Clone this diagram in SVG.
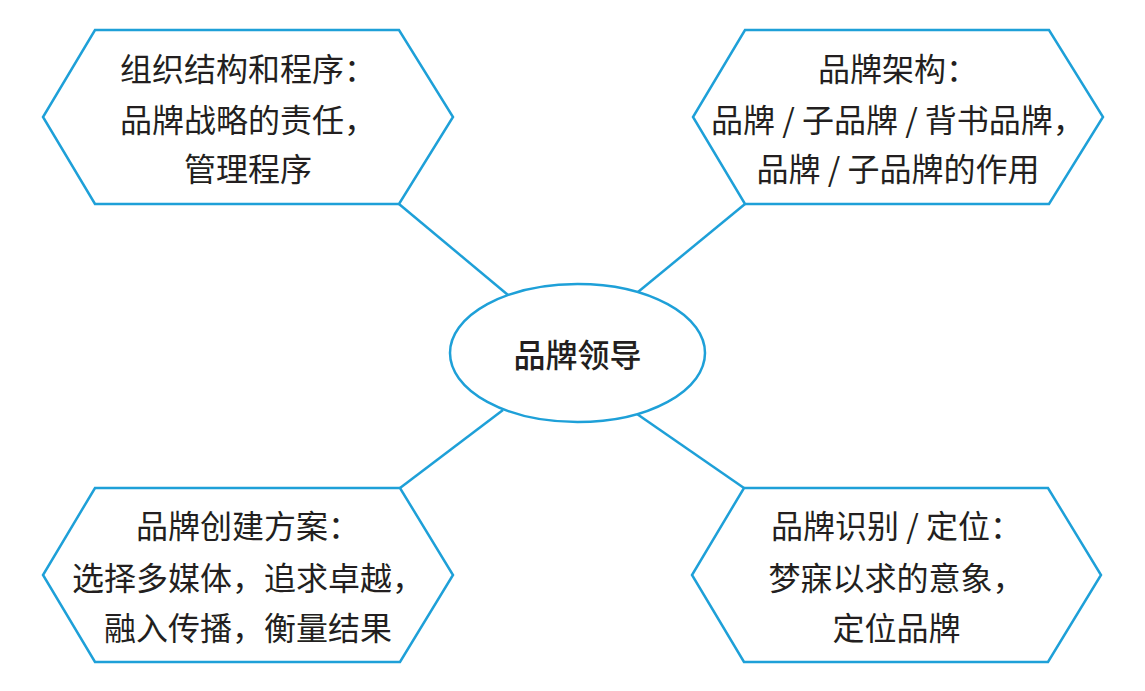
<svg xmlns="http://www.w3.org/2000/svg" width="1145" height="691" viewBox="0 0 1145 691">
<style>
.shape{fill:#ffffff;stroke:#1ea0d8;stroke-width:2.5;stroke-linejoin:miter}
.conn line{stroke:#1ea0d8;stroke-width:2.5}
.t{font-family:"Noto Sans CJK SC","Noto Sans CJK TC",sans-serif;font-size:32px;fill:#231f20;text-anchor:middle;dominant-baseline:central}
.c{font-weight:500;font-size:32px}
</style>
<rect width="1145" height="691" fill="#ffffff"/>
<g id="connectors" class="conn">
<line x1="399" y1="204" x2="508" y2="295"/>
<line x1="745" y1="204" x2="638" y2="292"/>
<line x1="400" y1="488" x2="503" y2="410"/>
<line x1="744" y1="488" x2="637" y2="414"/>
</g>
<g id="center">
<ellipse class="shape" cx="577.5" cy="353" rx="127.5" ry="69"/>
<text class="t c" x="577.5" y="353">品牌领导</text>
</g>
<g id="node-top-left">
<polygon class="shape" points="95,30 399,30 453,117 399,204 95,204 43,117"/>
<text class="t" x="248" y="67">组织结构和程序：</text>
<text class="t" x="248" y="118">品牌战略的责任，</text>
<text class="t" x="248" y="167">管理程序</text>
</g>
<g id="node-top-right">
<polygon class="shape" points="745,30 1049,30 1103,117 1049,204 745,204 693,117"/>
<text class="t" x="898" y="67">品牌架构：</text>
<text class="t" x="898" y="118">品牌 / 子品牌 / 背书品牌，</text>
<text class="t" x="898" y="167">品牌 / 子品牌的作用</text>
</g>
<g id="node-bottom-left">
<polygon class="shape" points="95,488 400,488 453,575 400,662 95,662 43,575"/>
<text class="t" x="248" y="524">品牌创建方案：</text>
<text class="t" x="248" y="576">选择多媒体，追求卓越，</text>
<text class="t" x="248" y="626">融入传播，衡量结果</text>
</g>
<g id="node-bottom-right">
<polygon class="shape" points="744,488 1048,488 1101,575 1048,662 744,662 692,575"/>
<text class="t" x="896.5" y="524">品牌识别 / 定位：</text>
<text class="t" x="896.5" y="576">梦寐以求的意象，</text>
<text class="t" x="896.5" y="626">定位品牌</text>
</g>
</svg>
